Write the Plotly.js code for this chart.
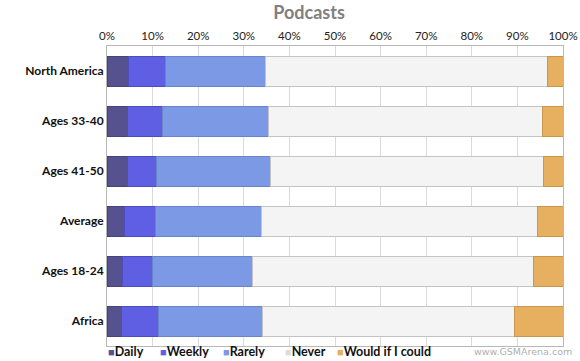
<!DOCTYPE html>
<html>
<head>
<meta charset="utf-8">
<script src="https://cdn.plot.ly/plotly-3.0.1.min.js"></script>
<style>html,body{margin:0;padding:0;background:#fff;}#chart{width:580px;height:361px;}</style>
</head>
<body>
<div id="chart"></div>
<script>
const categories = ["North America", "Ages 33-40", "Ages 41-50", "Average", "Ages 18-24", "Africa"];
const seriesNames = ["Daily", "Weekly", "Rarely", "Never", "Would if I could"];
const daily  = [4.8, 4.5, 4.5, 3.9, 3.4, 3.2];
const weekly = [8.0, 7.7, 6.4, 6.8, 6.6, 8.1];
const rarely = [21.9, 23.2, 24.9, 23.2, 21.9, 22.8];
const never  = [61.8, 60.1, 60.0, 60.6, 61.7, 55.3];
const would  = [3.5, 4.5, 4.2, 5.5, 6.4, 10.6];
const colors = ["#56528f", "#5f5fe4", "#7c99e6", "#f4f4f4", "#e6b060"];
const edgeColors = ["#46437a", "#4d4dc0", "#6a84c8", "#c4c4c4", "#c8964c"];
const seriesValues = [daily, weekly, rarely, never, would];

const font = "Lato, 'Open Sans', sans-serif";

const traces = seriesValues.map((vals, i) => ({
  type: "bar",
  orientation: "h",
  name: seriesNames[i],
  y: categories,
  x: vals,
  width: 0.6,
  marker: {color: colors[i], line: {color: edgeColors[i], width: 1}},
  hoverinfo: "x+name"
}));

// legend built as text annotations
const legendX = [107, 159, 222, 284, 336];
const annotations = seriesNames.map((n, i) => ({
  xref: "paper", yref: "paper",
  x: (legendX[i] - 107) / 456, y: -0.018,
  xanchor: "left", yanchor: "middle",
  showarrow: false, borderpad: 0,
  text: '<span style="color:' + (i === 3 ? '#dcdcdc' : colors[i]) + ';font-size:11px">■</span>' + n,
  font: {family: font, size: 12.5, color: "#111", weight: "bold"}
}));
annotations.push({
  xref: "paper", yref: "paper",
  x: (573 - 107) / 456, y: -0.018,
  xanchor: "right", yanchor: "middle",
  showarrow: false, borderpad: 0,
  text: "www.GSMArena.com",
  font: {family: "'DejaVu Sans', sans-serif", size: 9.5, color: "#b0b0b0"}
});

const layout = {
  width: 580, height: 361,
  margin: {l: 107, r: 17, t: 46, b: 15},
  paper_bgcolor: "#ffffff",
  plot_bgcolor: "#ffffff",
  barmode: "stack",
  showlegend: false,
  title: {
    text: "<b>Podcasts</b>",
    x: 309 / 580, xanchor: "center",
    y: 1 - 13 / 361, yanchor: "middle",
    font: {family: font, size: 18, color: "#808080"}
  },
  xaxis: {
    side: "top",
    range: [0, 100],
    tickvals: [0,10,20,30,40,50,60,70,80,90,100],
    ticktext: ["0%","10%","20%","30%","40%","50%","60%","70%","80%","90%","100%"],
    showgrid: true, gridcolor: "#dadada", gridwidth: 1,
    showline: true, linecolor: "#b8b8b8", linewidth: 1, mirror: true,
    zeroline: false, ticks: "",
    tickfont: {family: font, size: 11.5, color: "#222"},
    fixedrange: true
  },
  yaxis: {
    autorange: "reversed",
    showgrid: false, showline: true, linecolor: "#b8b8b8", linewidth: 1, mirror: true,
    ticks: "", ticklabelstandoff: 0,
    tickfont: {family: font, size: 12, color: "#111", weight: "bold"},
    fixedrange: true
  },
  annotations: annotations
};

Plotly.newPlot("chart", traces, layout, {displayModeBar: false, staticPlot: true});
</script>
</body>
</html>
